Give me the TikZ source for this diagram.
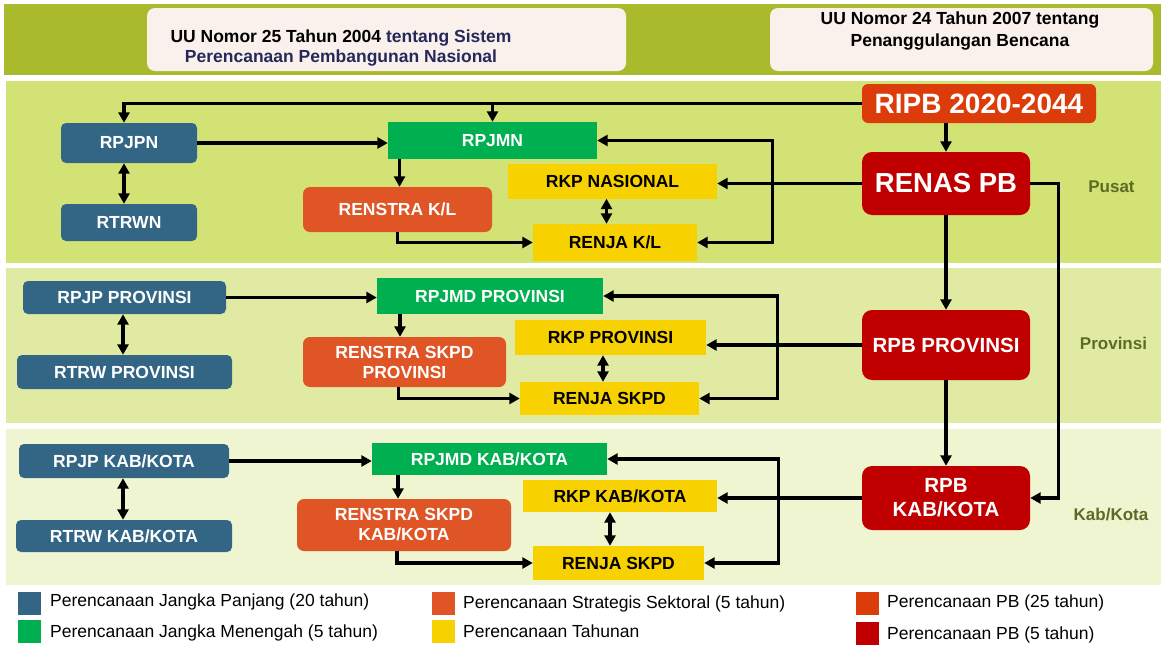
\documentclass[tikz,border=0pt]{standalone}
\usepackage{fontspec}
\setmainfont{Liberation Sans}
\usetikzlibrary{arrows.meta,calc}
\definecolor{colive}{HTML}{A9BA2C}
\definecolor{ccream}{HTML}{FBF1EC}
\definecolor{bandA}{HTML}{D3E275}
\definecolor{bandB}{HTML}{E1EAA2}
\definecolor{bandC}{HTML}{EFF4D1}
\definecolor{cblue}{HTML}{336685}
\definecolor{cgreen}{HTML}{00AF50}
\definecolor{corange}{HTML}{E05526}
\definecolor{cyellow}{HTML}{F8D200}
\definecolor{cripb}{HTML}{DC3B0A}
\definecolor{cred}{HTML}{C00000}
\definecolor{clabel}{HTML}{5E6B25}
\definecolor{cnavy}{HTML}{25285A}
\tikzset{
  box/.style={inner sep=0pt, font=\bfseries\fontsize{17.5}{20}\selectfont, align=center},
  blueb/.style={box, fill=cblue, text=white, rounded corners=5pt},
  greenb/.style={box, fill=cgreen, text=white},
  orangeb/.style={box, fill=corange, text=white, rounded corners=7pt},
  yellowb/.style={box, fill=cyellow, text=black},
  redb/.style={box, fill=cred, text=white, rounded corners=10pt},
  arr/.style={line width=3.2pt, -{Triangle[length=10.5pt,width=11pt]}},
  arrs/.style={line width=3.2pt, {Triangle[length=10.5pt,width=11pt]}-{Triangle[length=10.5pt,width=11pt]}},
  lvl/.style={font=\bfseries\fontsize{17}{20}\selectfont, text=clabel, inner sep=0pt},
  legtxt/.style={font=\fontsize{17.5}{20}\selectfont, anchor=west, inner sep=0pt},
  legsq/.style={inner sep=0pt, minimum width=23, minimum height=23},
  uutxt/.style={font=\bfseries\fontsize{17.5}{20}\selectfont, align=center, inner sep=0pt},
}
\begin{document}
\begin{tikzpicture}[x=1pt,y=-1pt]
\useasboundingbox (0,0) rectangle (1161,645);
\fill[white] (0,0) rectangle (1161,645);
% bands
\fill[colive] (4,4) rectangle (1161,75);
\fill[bandA] (6,81) rectangle (1161,263);
\fill[bandB] (6,268) rectangle (1161,423);
\fill[bandC] (6,429) rectangle (1161,585);
% top boxes
\node[fill=ccream, rounded corners=8pt, minimum width=479, minimum height=63, inner sep=0pt] (uuL) at (386.5,39.5) {};
\node[fill=ccream, rounded corners=8pt, minimum width=383, minimum height=63, inner sep=0pt] (uuR) at (961.5,39.5) {};
\node[uutxt] (uuLt) at (341,48) {UU Nomor 25 Tahun 2004 {\color{cnavy}tentang Sistem}\\{\color{cnavy}Perencanaan Pembangunan Nasional}};
\node[uutxt, text=black, font=\bfseries\fontsize{17.5}{22}\selectfont] (uuRt) at (960,31) {UU Nomor 24 Tahun 2007 tentang\\Penanggulangan Bencana};
% Pusat
\node[blueb, minimum width=136, minimum height=40] (rpjpn) at (129,143) {RPJPN};
\node[blueb, minimum width=136, minimum height=37] (rtrwn) at (129,222.5) {RTRWN};
\node[greenb, minimum width=209, minimum height=37] (rpjmn) at (492.5,140.5) {RPJMN};
\node[orangeb, minimum width=189, minimum height=45] (renstrakl) at (397.5,209.5) {RENSTRA K/L};
\node[yellowb, minimum width=209, minimum height=35] (rkpnas) at (612.5,181) {RKP NASIONAL};
\node[yellowb, minimum width=164, minimum height=37] (renjakl) at (615,242.5) {RENJA K/L};
\node[box, fill=cripb, text=white, rounded corners=6pt, minimum width=234, minimum height=39, font=\bfseries\fontsize{28}{30}\selectfont] (ripb) at (979,103.5) {RIPB 2020-2044};
\node[redb, minimum width=168, minimum height=63, font=\bfseries\fontsize{27.5}{30}\selectfont] (renas) at (946,183.5) {RENAS PB};
\node[lvl] (lpusat) at (1111.5,187) {Pusat};
% Provinsi
\node[blueb, minimum width=203, minimum height=33] (rpjpprov) at (124.5,297.5) {RPJP PROVINSI};
\node[blueb, minimum width=215, minimum height=34] (rtrwprov) at (124.5,372) {RTRW PROVINSI};
\node[greenb, minimum width=226, minimum height=36] (rpjmdprov) at (490,296) {RPJMD PROVINSI};
\node[orangeb, minimum width=203, minimum height=50] (renstraprov) at (404.5,362) {RENSTRA SKPD\\PROVINSI};
\node[yellowb, minimum width=191, minimum height=35] (rkpprov) at (610.5,337.5) {RKP PROVINSI};
\node[yellowb, minimum width=179, minimum height=33] (renjaprov) at (609.5,398.5) {RENJA SKPD};
\node[redb, minimum width=168, minimum height=70, font=\bfseries\fontsize{20.5}{24}\selectfont] (rpbprov) at (946,345) {RPB PROVINSI};
\node[lvl] (lprov) at (1113.5,343) {Provinsi};
% Kab/Kota
\node[blueb, minimum width=210, minimum height=34] (rpjpkab) at (124,461) {RPJP KAB/KOTA};
\node[blueb, minimum width=216, minimum height=32] (rtrwkab) at (124,536) {RTRW KAB/KOTA};
\node[greenb, minimum width=235, minimum height=32] (rpjmdkab) at (489.5,459) {RPJMD KAB/KOTA};
\node[orangeb, minimum width=214, minimum height=52] (renstrakab) at (404,525) {RENSTRA SKPD\\KAB/KOTA};
\node[yellowb, minimum width=194, minimum height=32] (rkpkab) at (620,496) {RKP KAB/KOTA};
\node[yellowb, minimum width=171, minimum height=34] (renjakab) at (618.5,563) {RENJA SKPD};
\node[redb, minimum width=168, minimum height=64, font=\bfseries\fontsize{20.5}{24}\selectfont] (rpbkab) at (946,498) {RPB\\KAB/KOTA};
\node[lvl] (lkab) at (1111,515) {Kab/Kota};
% connectors Pusat
\draw[arr] (ripb.west) -| ([xshift=-5pt]rpjpn.north);
\draw[arr] (ripb.west -| rpjmn.north) -- (rpjmn.north);
\draw[arr] (renas.north |- ripb.south) -- (renas.north);
\draw[arrs] ([xshift=-5pt]rpjpn.south) -- ([xshift=-5pt]rtrwn.north);
\draw[arr] (rpjpn.east) -- (rpjpn.east -| rpjmn.west);
\draw[arr] ([xshift=2pt]renstrakl.north |- rpjmn.south) -- ([xshift=2pt]renstrakl.north);
\draw[arr] (renstrakl.south) |- (renjakl.west);
\draw[arr] (renas.west) -- (renas.west -| rkpnas.east);
\draw[arrs] ([xshift=-6pt]rkpnas.south) -- ([xshift=-6pt]rkpnas.south |- renjakl.north);
\draw[arrs] (rpjmn.east) -- ++(175,0) |- (renjakl.east);
\draw[arr] (renas.east) -- ++(28,0) |- (rpbkab.east);
\draw[arr] (renas.south) -- (rpbprov.north);
\draw[arr] (rpbprov.south) -- (rpbkab.north);
% connectors Provinsi
\draw[arr] (rpjpprov.east) -- (rpjpprov.east -| rpjmdprov.west);
\draw[arrs] ([xshift=-1.5pt]rpjpprov.south) -- ([xshift=-1.5pt]rtrwprov.north);
\draw[arr] ([xshift=-4.5pt]renstraprov.north |- rpjmdprov.south) -- ([xshift=-4.5pt]renstraprov.north);
\draw[arr] ([xshift=-6pt]renstraprov.south) |- (renjaprov.west);
\draw[arr] (rpbprov.west) -- (rpbprov.west -| rkpprov.east);
\draw[arrs] ([xshift=-7.5pt]rkpprov.south) -- ([xshift=-7.5pt]rkpprov.south |- renjaprov.north);
\draw[arrs] (rpjmdprov.east) -- ++(174,0) |- (renjaprov.east);
% connectors Kab/Kota
\draw[arr] (rpjpkab.east) -- (rpjpkab.east -| rpjmdkab.west);
\draw[arrs] ([xshift=-1pt]rpjpkab.south) -- ([xshift=-1pt]rtrwkab.north);
\draw[arr] ([xshift=-6pt]renstrakab.north |- rpjmdkab.south) -- ([xshift=-6pt]renstrakab.north);
\draw[arr] ([xshift=-7pt]renstrakab.south) |- (renjakab.west);
\draw[arr] (rpbkab.west) -- (rpbkab.west -| rkpkab.east);
\draw[arrs] ([xshift=-10pt]rkpkab.south) -- ([xshift=-10pt]rkpkab.south |- renjakab.north);
\draw[arrs] (rpjmdkab.east) -- ++(171,0) |- (renjakab.east);
% legend
\node[legsq, fill=cblue] (sq1) at (29.5,603.5) {};
\node[legsq, fill=cgreen] (sq2) at (29.5,631.5) {};
\node[legsq, fill=corange] (sq3) at (443.5,603.5) {};
\node[legsq, fill=cyellow] (sq4) at (443.5,631.5) {};
\node[legsq, fill=cripb] (sq5) at (867.5,603.5) {};
\node[legsq, fill=cred] (sq6) at (867.5,633) {};
\node[legtxt] (lt1) at (50,602) {Perencanaan Jangka Panjang (20 tahun)};
\node[legtxt] (lt2) at (50,633) {Perencanaan Jangka Menengah (5 tahun)};
\node[legtxt] (lt3) at (463,604) {Perencanaan Strategis Sektoral (5 tahun)};
\node[legtxt] (lt4) at (463,631) {Perencanaan Tahunan};
\node[legtxt] (lt5) at (887,603) {Perencanaan PB (25 tahun)};
\node[legtxt] (lt6) at (887,635) {Perencanaan PB (5 tahun)};
\end{tikzpicture}
\end{document}
